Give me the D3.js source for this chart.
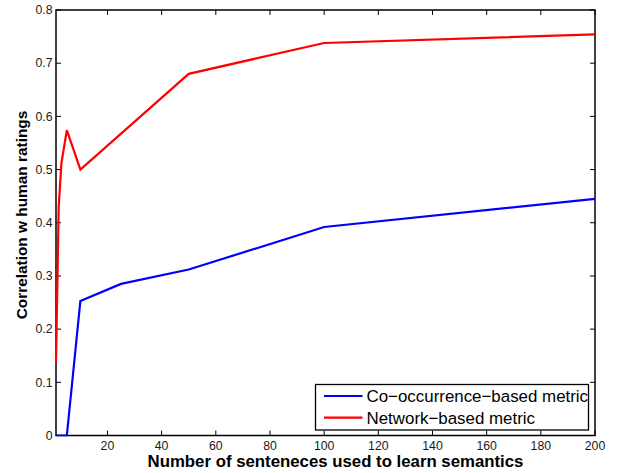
<!DOCTYPE html>
<html lang="en">
<head>
    <meta charset="UTF-8">
    <title>Correlation vs sentences</title>
    <style>
        body { margin: 0; background: #fff; }
        svg text { font-family: "Liberation Sans", Arial, sans-serif; fill: #1a1a1a; }
        .tick-label { font-size: 12.3px; }
        .axis-title { font-size: 16.8px; font-weight: bold; fill: #000; }
        .axis-title.ytitle { font-size: 15.4px; }
        .legend-text { font-size: 16.9px; fill: #000; }
        .series { fill: none; stroke-width: 2.2px; stroke-linejoin: miter; }
    </style>
</head>
<body>
    <div id="chart"></div>
    <script src="https://d3js.org/d3.v7.min.js"></script>
    <script>
        // Data
        const blueX = [1, 2, 3, 5, 10, 25, 50, 100, 200];
        const blueY = [0, 0, 0, 0, 0.253, 0.285, 0.312, 0.392, 0.445];
        const redX = [1, 2, 3, 5, 10, 50, 100, 200];
        const redY = [0.135, 0.43, 0.512, 0.574, 0.50, 0.68, 0.738, 0.754];
        const xTicks = [20, 40, 60, 80, 100, 120, 140, 160, 180, 200];
        const yTicks = [0, 0.1, 0.2, 0.3, 0.4, 0.5, 0.6, 0.7, 0.8];
        const seriesNames = ["Co\u2212occurrence\u2212based metric", "Network\u2212based metric"];
        const seriesColors = ["#0000ff", "#ff0000"];

        var width = 619;
        var height = 473;
        const mLeft = 56, mRight = 595, mTop = 10, mBottom = 435.5;
        const tickLen = 5;

        const svg = d3.select("#chart").append("svg")
          .attr("width", width)
          .attr("height", height);

        const x = d3.scaleLinear().domain([1, 200]).range([mLeft, mRight]);
        const y = d3.scaleLinear().domain([0, 0.8]).range([mBottom, mTop]);

        svg.append("clipPath").attr("id", "clip")
          .append("rect")
          .attr("x", mLeft - 1).attr("y", mTop - 1)
          .attr("width", mRight - mLeft + 2).attr("height", mBottom - mTop + 2);

        // box
        svg.append("rect")
          .attr("x", mLeft).attr("y", mTop)
          .attr("width", mRight - mLeft).attr("height", mBottom - mTop)
          .attr("fill", "none")
          .attr("stroke", "#000")
          .attr("stroke-width", 1.5);

        // ticks (inward, on all four sides)
        const g = svg.append("g").attr("stroke", "#000").attr("stroke-width", 1);
        xTicks.forEach(t => {
          g.append("line").attr("x1", x(t)).attr("x2", x(t)).attr("y1", mBottom).attr("y2", mBottom - tickLen);
          g.append("line").attr("x1", x(t)).attr("x2", x(t)).attr("y1", mTop).attr("y2", mTop + tickLen);
        });
        yTicks.forEach(t => {
          g.append("line").attr("x1", mLeft).attr("x2", mLeft + tickLen).attr("y1", y(t)).attr("y2", y(t));
          g.append("line").attr("x1", mRight).attr("x2", mRight - tickLen).attr("y1", y(t)).attr("y2", y(t));
        });

        svg.selectAll(".xlab").data(xTicks).enter().append("text")
          .attr("class", "tick-label")
          .attr("x", d => x(d))
          .attr("y", 449.5)
          .attr("text-anchor", "middle")
          .text(d => d);

        svg.selectAll(".ylab").data(yTicks).enter().append("text")
          .attr("class", "tick-label")
          .attr("x", 52.5)
          .attr("y", d => y(d) + 4.3)
          .attr("text-anchor", "end")
          .text(d => d === 0 ? "0" : d3.format(".1f")(d));

        // axis titles
        svg.append("text")
          .attr("class", "axis-title")
          .attr("x", 335.5)
          .attr("y", 466.5)
          .attr("text-anchor", "middle")
          .text("Number of senteneces used to learn semantics");

        svg.append("text")
          .attr("class", "axis-title ytitle")
          .attr("transform", "translate(26.6,215) rotate(-90)")
          .attr("text-anchor", "middle")
          .text("Correlation w human ratings");

        // series
        const line = d3.line().x(d => x(d[0])).y(d => y(d[1]));
        const plot = svg.append("g").attr("clip-path", "url(#clip)");
        plot.append("path")
          .attr("class", "series")
          .attr("stroke", seriesColors[0])
          .attr("d", line(blueX.map((v, i) => [v, blueY[i]])));
        plot.append("path")
          .attr("class", "series")
          .attr("stroke", seriesColors[1])
          .attr("d", line(redX.map((v, i) => [v, redY[i]])));

        // legend
        const lg = svg.append("g");
        lg.append("rect")
          .attr("x", 315.5).attr("y", 384.5)
          .attr("width", 273).attr("height", 45.5)
          .attr("fill", "#fff")
          .attr("stroke", "#000")
          .attr("stroke-width", 1.3);
        seriesNames.forEach((name, i) => {
          const yy = 396 + i * 21.7;
          lg.append("line")
            .attr("x1", 324).attr("x2", 362.5)
            .attr("y1", yy).attr("y2", yy)
            .attr("stroke", seriesColors[i])
            .attr("stroke-width", 2.2);
          lg.append("text")
            .attr("class", "legend-text")
            .attr("x", 366.5)
            .attr("y", yy + 6)
            .text(name);
        });
    </script>
</body>
</html>
